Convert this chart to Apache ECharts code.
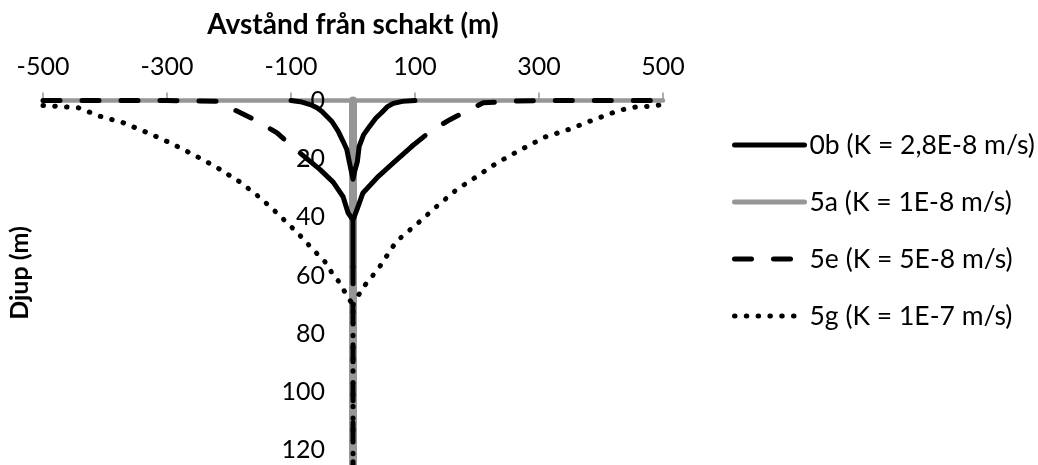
<!DOCTYPE html>
<html><head><meta charset="utf-8">
<script src="https://cdn.jsdelivr.net/npm/echarts@6/dist/echarts.min.js"></script>
<style>html,body{margin:0;padding:0;background:#fff}#c{width:1038px;height:465px}</style>
</head><body><div id="c"></div>
<script>
// ---- tick labels ----
const xTicks = [-500, -300, -100, 100, 300, 500];
const yTicks = [0, 20, 40, 60, 80, 100, 120];

// ---- series names ----
const name0b = '0b (K = 2,8E-8 m/s)';
const name5a = '5a (K = 1E-8 m/s)';
const name5e = '5e (K = 5E-8 m/s)';
const name5g = '5g (K = 1E-7 m/s)';

// ---- data: [distance (m), depth (m)] ----
const d0b = [[-100,0],[-85,0.4],[-69,1.4],[-58,2.5],[-50,3.8],[-42,5.5],[-34,7.2],[-24,10.5],[-16,14],[-10,16.8],[-6,21],[-3,24],[0,27],
             [3,24],[7,21],[10,15.7],[17,11.8],[27,8.8],[37,6],[46,4.2],[55,2.2],[65,1],[80,0.3],[100,0]];
const d5a = [[0,0],[0,125]];
const d5eLeftSparse  = [[-500,0],[-400,0],[-300,0],[-219,0.3],[-193,3],[-155,7],[-123,11],[-97,16],[-74,20]];
const d5eRightSparse = [[95,15.7],[127,10.2],[157,6.5],[178,4.2],[210,0.8],[248,0.3],[300,0],[400,0],[500,0]];
const d5eDense = [[-74,20],[-53,23.7],[-32,28],[-16,33],[-8,38.5],[0,41],[0,57],[0,41],[8,36.5],[16,31.7],[41,26],[65,21.4],[95,15.7]];
const d5eDeep = [[0,57],[0,125]];
const d5gLeft  = [[-500,1.7],[-476,2],[-443,2.5],[-408,5.4],[-371,7.6],[-332,11],[-295,14.5],[-258,18.5],[-219,23],[-182,28],[-150,33.3],[-123,38.5],[-90,45.3],[-65,51],[-42,56],[-32,60],[-21,62.5],[-10,67],[0,70],[0,125]];
const d5gRight = [[0,70],[11,66],[22,62.5],[32,60],[44,56.7],[70,48.3],[105,42],[135,36.3],[167,30.6],[200,26],[232,21.4],[266,17.4],[310,12.5],[347,10],[382,7.1],[419,4.2],[439,2.9],[460,2.1],[479,2],[500,1.4]];

const FONT = 'Lato';
const GREY = '#969696';
const dashE = [17, 22];
const dotG = [0.5, 11.3];

const chart = echarts.init(document.getElementById('c'), null, {renderer: 'canvas'});
function line(name, data, color, width, type, z) {
  return {name, type: 'line', data, symbol: 'none', showSymbol: false, z: z || 2,
    animation: false, silent: true, itemStyle: {color},
    lineStyle: {color, width, type: type || 'solid', cap: 'round', join: 'round'}};
}
chart.setOption({
  animation: false,
  grid: {left: 43, right: 375, top: 100.5, bottom: 0, containLabel: false, outerBoundsMode: 'none'},
  xAxis: {
    type: 'value', position: 'top', min: -500, max: 500,
    name: 'Avstånd från schakt (m)', nameLocation: 'middle', nameGap: 62,
    nameTextStyle: {fontFamily: FONT, fontWeight: 'bold', fontSize: 28, color: '#000'},
    axisLine: {show: true, onZero: false, lineStyle: {color: GREY, width: 4.5}},
    axisTick: {show: true, length: 8, customValues: xTicks, lineStyle: {color: GREY, width: 1.5}},
    axisLabel: {show: true, customValues: xTicks, fontFamily: FONT, fontSize: 25, color: '#000', margin: 21},
    splitLine: {show: false}
  },
  yAxis: {
    type: 'value', inverse: true, min: 0, max: 125, position: 'left', offset: -310,
    axisLine: {show: true, onZero: false, lineStyle: {color: GREY, width: 8}},
    axisTick: {show: false},
    axisLabel: {show: true, customValues: yTicks, fontFamily: FONT, fontSize: 25, color: '#000', margin: 28},
    splitLine: {show: false}
  },
  legend: {
    orient: 'vertical', left: 727, top: 125, itemWidth: 70, itemHeight: 14, itemGap: 27,
    data: [name0b, name5a, name5e, name5g],
    textStyle: {fontFamily: FONT, fontSize: 26.5, color: '#000', lineHeight: 30},
    lineStyle: {width: 5},
    itemStyle: {opacity: 0},
    selectedMode: false
  },
  graphic: [{
    type: 'text', x: 20, y: 273, rotation: Math.PI / 2,
    style: {text: 'Djup (m)', fontFamily: FONT, fontWeight: 'bold', fontSize: 25, fill: '#000',
            align: 'center', verticalAlign: 'middle'}
  }],
  series: [
    line(name5a, d5a, GREY, 5, 'solid', 1),
    line(name0b, d0b, '#000', 5),
    line(name5e, d5eLeftSparse, '#000', 5, dashE),
    line(name5e, d5eRightSparse, '#000', 5, dashE),
    line(name5e, d5eDeep, '#000', 5, dashE),
    line(name5e, d5eDense, '#000', 5, 'solid'),
    line(name5g, d5gLeft, '#000', 5, dotG),
    line(name5g, d5gRight, '#000', 5, dotG)
  ]
});
</script>
</body></html>
